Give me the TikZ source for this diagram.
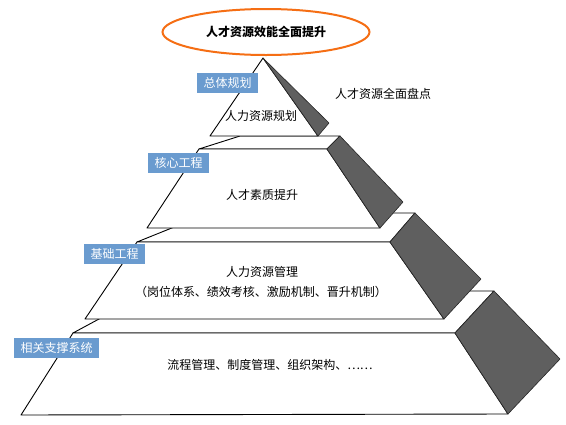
\documentclass[tikz,border=0pt]{standalone}
\usepackage{fontspec}
\newfontfamily\cjk{Noto Sans CJK SC}
\usetikzlibrary{shapes.geometric,positioning}
\definecolor{myblue}{RGB}{106,155,207}
\definecolor{mygray}{RGB}{95,95,95}
\definecolor{myorange}{RGB}{245,110,20}

\begin{document}
\begin{tikzpicture}[
  x=1pt, y=-1pt,
  font=\cjk\fontsize{12}{14}\selectfont,
  myface/.style={
    draw,
    fill=white,
    line width=0.9pt,
    line join=round
    },
  myside/.style={
    draw=black!85,
    fill=mygray,
    line width=0.6pt,
    line join=round
    },
  mytag/.style={
    fill=myblue,
    text=white,
    inner xsep=6.5pt,
    inner ysep=0pt,
    minimum height=20pt,
    anchor=north west
    },
  mytext/.style={inner sep=1pt}
]
\useasboundingbox (0,0) rectangle (566,424);

% tier 4
\draw[myface] (73,333) -- (455,333) -- (494,291) -- (151,291) -- cycle;
\draw[myface] (73,333) -- (455,333) -- (508,414) -- (21,415) -- cycle;
\draw[myside] (455,333) -- (494,291) -- (560,359) -- (508,414) -- cycle;

% tier 3
\draw[myface] (137,242) -- (390,242) -- (415,213) -- (209,213) -- cycle;
\draw[myface] (137,242) -- (390,242) -- (444,319) -- (85,319) -- cycle;
\draw[myside] (390,242) -- (415,213) -- (481,279) -- (444,319) -- cycle;

% tier 2
\draw[myface] (199,149) -- (327,149) -- (340,136) -- (240,136) -- cycle;
\draw[myface] (199,149) -- (327,149) -- (380,228) -- (147,228) -- cycle;
\draw[myside] (327,149) -- (340,136) -- (403,202) -- (380,228) -- cycle;

% tier 1
\draw[myface] (263,58) -- (318,136) -- (210,136) -- cycle;
\draw[myside] (263,58) -- (329,123) -- (318,136) -- cycle;

\node[ellipse, draw=myorange, fill=white, line width=2pt,
  minimum width=207pt, minimum height=46pt, inner sep=0pt,
  font=\cjk\bfseries\fontsize{12}{14}\selectfont]
  (goal) at (266,32) {人才资源效能全面提升};

\node[mytext] (inventory) at (383,94) {人才资源全面盘点};
\node[mytext] (plan) at (261,116) {人力资源规划};
\node[mytext] (quality) at (262,195) {人才素质提升};
\node[mytext] (manage) at (262,272) {人力资源管理};
\node[mytext] (managedetail) at (261,292) {（岗位体系、绩效考核、激励机制、晋升机制）};
\node[mytext] (support) at (270,365) {流程管理、制度管理、组织架构、……};

\foreach \Texto/\Px/\Py [count=\Ti from 1] in {总体规划/197/73, 核心工程/148/153, 基础工程/84/244, 相关支撑系统/14/338}
  \node[mytag] (tag\Ti) at (\Px,\Py) {\Texto};

\end{tikzpicture}
\end{document}
